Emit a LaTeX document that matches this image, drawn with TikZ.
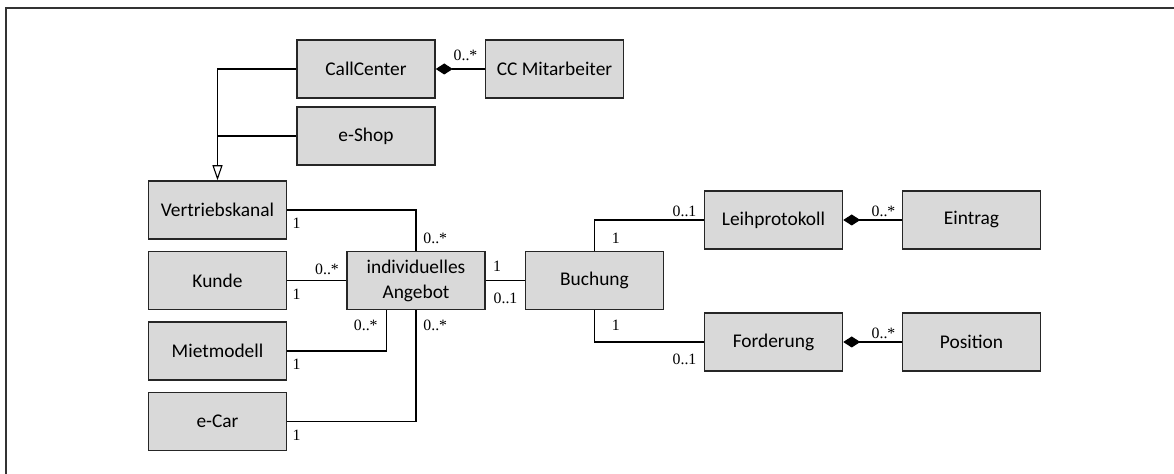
\documentclass[tikz,border=0pt]{standalone}
\usepackage{fontspec}
\setmainfont{Carlito}
\newfontfamily\multfont{Liberation Serif}
\usetikzlibrary{positioning,arrows.meta}

\begin{document}
\begin{tikzpicture}[
    klasse/.style={rectangle, draw=black!85, line width=0.75pt, fill=black!15, minimum width=69pt, minimum height=29pt, inner sep=2pt, align=center, font=\fontsize{9.7}{12.5}\selectfont},
    mult/.style={inner sep=1pt, font=\multfont\fontsize{7.9}{8}\selectfont},
    verb/.style={draw=black, line width=0.55pt},
    komp/.style={verb, {Diamond[length=8.5pt, width=5.5pt]}-},
    gen/.style={verb, -{Triangle[open, length=7.5pt, width=5pt, fill=white]}}
  ]
    \useasboundingbox (0pt,0pt) rectangle (587pt,-237pt);
    \draw[black!80, line width=1pt] (3pt,-237pt) -- (3pt,-4pt) -- (587pt,-4pt);

    \node (vertrieb) [klasse] at (108.75pt,-105pt) {Vertriebskanal};
    \node (kunde) [klasse, below=5.5pt of vertrieb] {Kunde};
    \node (mietmodell) [klasse, below=5.5pt of kunde] {Mietmodell};
    \node (ecar) [klasse, below=5.5pt of mietmodell] {e-Car};
    \node (eshop) [klasse, above=7.25pt of vertrieb, xshift=74.25pt] {e-Shop};
    \node (callcenter) [klasse, above=3.75pt of eshop] {CallCenter};
    \node (mitarbeiter) [klasse, right=24.5pt of callcenter] {CC Mitarbeiter};
    \node (angebot) [klasse, right=29.5pt of kunde] {individuelles\\Angebot};
    \node (buchung) [klasse, right=19.5pt of angebot] {Buchung};
    \node (leihprotokoll) [klasse, above right=0.5pt and 19.75pt of buchung] {Leihprotokoll};
    \node (forderung) [klasse, below right=1pt and 19.75pt of buchung] {Forderung};
    \node (eintrag) [klasse, right=29.25pt of leihprotokoll] {Eintrag};
    \node (position) [klasse, right=29.25pt of forderung] {Position};

    \draw[gen] (callcenter.west) -| (vertrieb.north);
    \draw[verb] (eshop.west) -- (eshop.west -| vertrieb.north);
    \draw[komp] (callcenter.east) -- (mitarbeiter.west);
    \draw[verb] (vertrieb.east) -| (angebot.north);
    \draw[verb] (kunde.east) -- (angebot.west);
    \draw[verb] (mietmodell.east) -| ([xshift=-14.75pt]angebot.south);
    \draw[verb] (ecar.east) -| (angebot.south);
    \draw[verb] (angebot.east) -- (buchung.west);
    \draw[verb] (buchung.north) |- (leihprotokoll.west);
    \draw[verb] (buchung.south) |- (forderung.west);
    \draw[komp] (leihprotokoll.east) -- (eintrag.west);
    \draw[komp] (forderung.east) -- (position.west);

    \node (m-cc) [mult, anchor=south east] at ([shift={(-2.5pt,3pt)}]mitarbeiter.west) {0..*};
    \node (m-vk) [mult, anchor=north west] at ([shift={(1.5pt,-3pt)}]vertrieb.east) {1};
    \node (m-vka) [mult, anchor=south west] at ([shift={(2.5pt,2.5pt)}]angebot.north) {0..*};
    \node (m-ku) [mult, anchor=north west] at ([shift={(1.5pt,-3pt)}]kunde.east) {1};
    \node (m-kua) [mult, anchor=south east] at ([shift={(-2.5pt,1.5pt)}]angebot.west) {0..*};
    \node (m-mm) [mult, anchor=north west] at ([shift={(1.5pt,-3pt)}]mietmodell.east) {1};
    \node (m-mma) [mult, anchor=north east] at ([shift={(-18pt,-3.5pt)}]angebot.south) {0..*};
    \node (m-ec) [mult, anchor=north west] at ([shift={(1.5pt,-3pt)}]ecar.east) {1};
    \node (m-eca) [mult, anchor=north west] at ([shift={(2.5pt,-3.5pt)}]angebot.south) {0..*};
    \node (m-ab) [mult, anchor=south west] at ([shift={(2.5pt,3.5pt)}]angebot.east) {1};
    \node (m-ba) [mult, anchor=north east] at ([shift={(-2.5pt,-5pt)}]buchung.west) {0..1};
    \node (m-bl) [mult, anchor=south west] at ([shift={(7.5pt,2.5pt)}]buchung.north) {1};
    \node (m-lb) [mult, anchor=south east] at ([shift={(-2.5pt,0.5pt)}]leihprotokoll.west) {0..1};
    \node (m-bf) [mult, anchor=north west] at ([shift={(7.5pt,-3.5pt)}]buchung.south) {1};
    \node (m-fb) [mult, anchor=north east] at ([shift={(-2.5pt,-5pt)}]forderung.west) {0..1};
    \node (m-le) [mult, anchor=south east] at ([shift={(-2pt,0.5pt)}]eintrag.west) {0..*};
    \node (m-fp) [mult, anchor=south east] at ([shift={(-2pt,0.5pt)}]position.west) {0..*};
  \end{tikzpicture}
\end{document}
